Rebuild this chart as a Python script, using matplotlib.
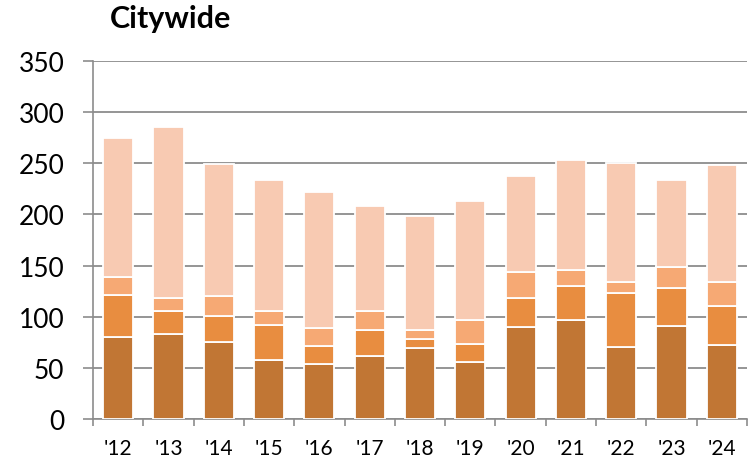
import matplotlib
matplotlib.use("Agg")
import matplotlib.pyplot as plt
import numpy as np

years = ["'12", "'13", "'14", "'15", "'16", "'17", "'18", "'19", "'20", "'21", "'22", "'23", "'24"]
dark = [80, 83, 75, 58, 54, 62, 69, 56, 90, 97, 70, 91, 72]
medium = [41, 23, 26, 34, 17, 25, 9, 17, 28, 33, 53, 37, 38]
light = [18, 12, 19, 14, 18, 19, 9, 24, 26, 16, 11, 21, 24]
peach = [136, 167, 129, 128, 133, 102, 111, 116, 94, 107, 116, 85, 114]

series = [dark, medium, light, peach]
colors = ["#C17634", "#E88D40", "#F6A974", "#F8CAB2"]

plt.rcParams['font.family'] = ['Lato', 'DejaVu Sans']

fig = plt.figure(figsize=(7.49, 4.64), dpi=100)
ax = fig.add_axes([93/749, 44/464, 654/749, 358/464])

x = np.arange(len(years))
bottom = np.zeros(len(years))
for vals, c in zip(series, colors):
    ax.bar(x, vals, width=0.6, bottom=bottom, color=c, edgecolor="white", linewidth=1.3, zorder=3)
    bottom += np.array(vals)

ax.set_xlim(-0.5, len(years) - 0.5)
ax.set_ylim(0, 350)
ax.set_yticks(range(0, 351, 50))
ax.tick_params(axis='y', labelsize=19, length=7.5, color="#8c8c8c", width=1.2, pad=13)
ax.set_xticks(x)
ax.set_xticklabels(years)
ax.set_xticks(np.arange(-0.5, len(years), 1), minor=True)
ax.tick_params(axis='x', which='major', length=0, labelsize=15, pad=14)
ax.tick_params(axis='x', which='minor', length=5, color="#8c8c8c", width=1.2)

ax.grid(axis='y', color="#8c8c8c", linewidth=1.3, zorder=0)
ax.set_axisbelow(True)
for s in ["top", "right"]:
    ax.spines[s].set_visible(False)
for s in ["left", "bottom"]:
    ax.spines[s].set_color("#8c8c8c")
    ax.spines[s].set_linewidth(1.2)

fig.text(110/749, 1 - 28/464, "Citywide", fontsize=22, fontweight="bold", ha="left", va="baseline")

fig.savefig("out.png", dpi=100)
